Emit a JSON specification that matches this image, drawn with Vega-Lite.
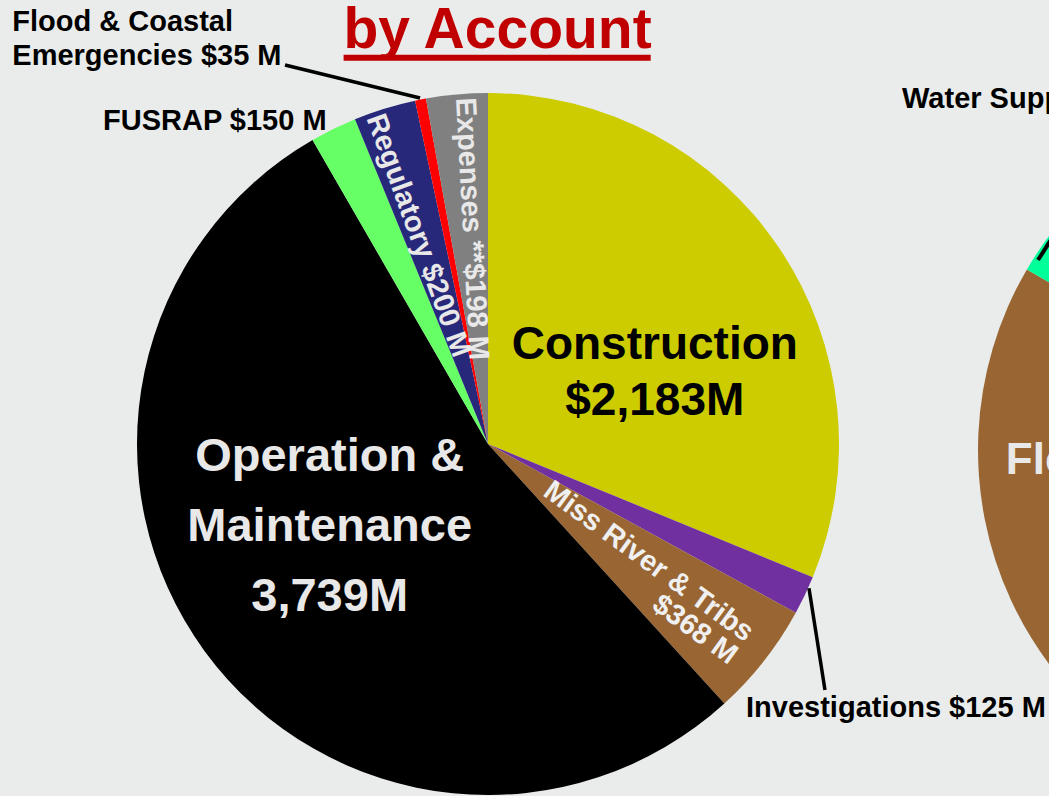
{
  "$schema": "https://vega.github.io/schema/vega-lite/v6.json",
  "width": 1049,
  "height": 796,
  "autosize": {"type": "none"},
  "padding": 0,
  "background": "#E9ECEB",
  "config": {"view": {"stroke": null}, "font": "Liberation Sans", "text": {"font": "Liberation Sans", "fontWeight": "bold"}},
  "datasets": {
    "account": [
      {"account": "Construction", "value": 2183, "idx": 1, "label": "Construction\n$2,183M"},
      {"account": "Investigations", "value": 125, "idx": 2, "label": "Investigations $125 M"},
      {"account": "Miss River & Tribs", "value": 368, "idx": 3, "label": "Miss River & Tribs\n$368 M"},
      {"account": "Operation & Maintenance", "value": 3739, "idx": 4, "label": "Operation &\nMaintenance\n3,739M"},
      {"account": "FUSRAP", "value": 150, "idx": 5, "label": "FUSRAP $150 M"},
      {"account": "Regulatory", "value": 200, "idx": 6, "label": "Regulatory $200 M"},
      {"account": "Flood & Coastal Emergencies", "value": 35, "idx": 7, "label": "Flood & Coastal\nEmergencies $35 M"},
      {"account": "Expenses", "value": 198, "idx": 8, "label": "Expenses **$198 M"}
    ],
    "business": [
      {"account": "Navigation", "value": 190, "idx": 1, "label": "Navigation"},
      {"account": "Flood Risk Management", "value": 110.3, "idx": 2, "label": "Flood Risk Management"},
      {"account": "Water Supply", "value": 8, "idx": 3, "label": "Water Supply"},
      {"account": "Other", "value": 51.7, "idx": 4, "label": "Other"}
    ]
  },
  "encoding": {
    "x": {"datum": 0, "type": "quantitative", "scale": {"domain": [-1.3903, 1.5983], "nice": false, "zero": false}, "axis": null},
    "y": {"datum": 0, "type": "quantitative", "scale": {"domain": [-1.0028, 1.265], "nice": false, "zero": false}, "axis": null}
  },
  "resolve": {"scale": {"theta": "independent"}},
  "layer": [
    {
      "data": {"name": "account"},
      "mark": {"type": "arc", "outerRadius": 351},
      "encoding": {
        "theta": {"field": "value", "type": "quantitative", "stack": true},
        "order": {"field": "idx", "type": "quantitative"},
        "color": {"field": "account", "type": "nominal", "legend": null,
          "scale": {
            "domain": ["Construction", "Investigations", "Miss River & Tribs", "Operation & Maintenance", "FUSRAP", "Regulatory", "Flood & Coastal Emergencies", "Expenses", "Navigation", "Flood Risk Management", "Water Supply", "Other"],
            "range": ["#CCCC00", "#7030A0", "#996633", "#000000", "#66FF66", "#28287A", "#FF0000", "#808080", "#3366CC", "#996633", "#00FF99", "#A6A6A6"]
          }
        }
      }
    },
    {
      "data": {"name": "business"},
      "mark": {"type": "arc", "outerRadius": 358},
      "encoding": {
        "x": {"datum": 2.416, "type": "quantitative", "scale": {"domain": [-1.3903, 1.5983], "nice": false, "zero": false}, "axis": null},
        "y": {"datum": -0.0171, "type": "quantitative", "scale": {"domain": [-1.0028, 1.265], "nice": false, "zero": false}, "axis": null},
        "theta": {"field": "value", "type": "quantitative", "stack": true},
        "order": {"field": "idx", "type": "quantitative"},
        "color": {"field": "account", "type": "nominal", "legend": null}
      }
    },
    {
      "data": {"values": [{}]},
      "mark": {"type": "rule", "strokeWidth": 3.5, "color": "#000000"},
      "encoding": {
        "x": {"datum": -0.5783, "type": "quantitative", "scale": {"domain": [-1.3903, 1.5983], "nice": false, "zero": false}, "axis": null},
        "y": {"datum": 1.0798, "type": "quantitative", "scale": {"domain": [-1.0028, 1.265], "nice": false, "zero": false}, "axis": null},
        "x2": {"datum": -0.1937},
        "y2": {"datum": 0.9858}
      }
    },
    {
      "data": {"values": [{}]},
      "mark": {"type": "rule", "strokeWidth": 3.5, "color": "#000000"},
      "encoding": {
        "x": {"datum": 0.9145, "type": "quantitative", "scale": {"domain": [-1.3903, 1.5983], "nice": false, "zero": false}, "axis": null},
        "y": {"datum": -0.4111, "type": "quantitative", "scale": {"domain": [-1.0028, 1.265], "nice": false, "zero": false}, "axis": null},
        "x2": {"datum": 0.9601},
        "y2": {"datum": -0.7009}
      }
    },
    {
      "data": {"values": [{}]},
      "mark": {"type": "rule", "strokeWidth": 4, "color": "#000000"},
      "encoding": {
        "x": {"datum": 1.567, "type": "quantitative", "scale": {"domain": [-1.3903, 1.5983], "nice": false, "zero": false}, "axis": null},
        "y": {"datum": 0.5242, "type": "quantitative", "scale": {"domain": [-1.0028, 1.265], "nice": false, "zero": false}, "axis": null},
        "x2": {"datum": 1.6581},
        "y2": {"datum": 0.6667}
      }
    },
    {
      "data": {"name": "account"},
      "mark": {"type": "text", "radius": 190, "dx": 9, "dy": 7, "fontSize": 46, "lineHeight": 56, "lineBreak": "\n", "align": "center", "baseline": "middle", "color": "#000000"},
      "encoding": {
        "theta": {"field": "value", "type": "quantitative", "stack": true},
        "order": {"field": "idx", "type": "quantitative"},
        "detail": {"field": "account", "type": "nominal"},
        "text": {"condition": {"test": "datum.account === 'Construction'", "field": "label", "type": "nominal"}, "value": ""}
      }
    },
    {
      "data": {"name": "account"},
      "mark": {"type": "text", "radius": 180, "dx": -13, "dy": -93, "fontSize": 47, "lineHeight": 70, "lineBreak": "\n", "align": "center", "baseline": "middle", "color": "#E8E8E8"},
      "encoding": {
        "theta": {"field": "value", "type": "quantitative", "stack": true},
        "order": {"field": "idx", "type": "quantitative"},
        "detail": {"field": "account", "type": "nominal"},
        "text": {"condition": {"test": "datum.account === 'Operation & Maintenance'", "field": "label", "type": "nominal"}, "value": ""}
      }
    },
    {
      "data": {"name": "account"},
      "mark": {"type": "text", "radius": 325, "dx": 0, "dy": -12, "angle": 36, "fontSize": 29, "lineHeight": 28, "lineBreak": "\n", "align": "right", "baseline": "middle", "color": "#F0F0F0"},
      "encoding": {
        "theta": {"field": "value", "type": "quantitative", "stack": true},
        "order": {"field": "idx", "type": "quantitative"},
        "detail": {"field": "account", "type": "nominal"},
        "text": {"condition": {"test": "datum.account === 'Miss River & Tribs'", "field": "label", "type": "nominal"}, "value": ""}
      }
    },
    {
      "data": {"name": "account"},
      "mark": {"type": "text", "radius": 220, "dx": 0, "dy": 5, "angle": 70, "fontSize": 29, "align": "center", "baseline": "middle", "color": "#E8E8E8"},
      "encoding": {
        "theta": {"field": "value", "type": "quantitative", "stack": true},
        "order": {"field": "idx", "type": "quantitative"},
        "detail": {"field": "account", "type": "nominal"},
        "text": {"condition": {"test": "datum.account === 'Regulatory'", "field": "label", "type": "nominal"}, "value": ""}
      }
    },
    {
      "data": {"name": "account"},
      "mark": {"type": "text", "radius": 217, "dx": 1, "dy": -3, "angle": 87, "fontSize": 29, "align": "center", "baseline": "middle", "color": "#E8E8E8"},
      "encoding": {
        "theta": {"field": "value", "type": "quantitative", "stack": true},
        "order": {"field": "idx", "type": "quantitative"},
        "detail": {"field": "account", "type": "nominal"},
        "text": {"condition": {"test": "datum.account === 'Expenses'", "field": "label", "type": "nominal"}, "value": ""}
      }
    },
    {
      "data": {"name": "account"},
      "mark": {"type": "text", "radius": 362, "dx": -2, "dy": 2, "fontSize": 29, "align": "right", "baseline": "middle", "color": "#000000"},
      "encoding": {
        "theta": {"field": "value", "type": "quantitative", "stack": true},
        "order": {"field": "idx", "type": "quantitative"},
        "detail": {"field": "account", "type": "nominal"},
        "text": {"condition": {"test": "datum.account === 'FUSRAP'", "field": "label", "type": "nominal"}, "value": ""}
      }
    },
    {
      "data": {"name": "account"},
      "mark": {"type": "text", "radius": 430, "dx": -393, "dy": 0, "fontSize": 29, "lineHeight": 34, "lineBreak": "\n", "align": "left", "baseline": "middle", "color": "#000000"},
      "encoding": {
        "theta": {"field": "value", "type": "quantitative", "stack": true},
        "order": {"field": "idx", "type": "quantitative"},
        "detail": {"field": "account", "type": "nominal"},
        "text": {"condition": {"test": "datum.account === 'Flood & Coastal Emergencies'", "field": "label", "type": "nominal"}, "value": ""}
      }
    },
    {
      "data": {"name": "account"},
      "mark": {"type": "text", "radius": 430, "dx": -130, "dy": 79, "fontSize": 29, "align": "left", "baseline": "middle", "color": "#000000"},
      "encoding": {
        "theta": {"field": "value", "type": "quantitative", "stack": true},
        "order": {"field": "idx", "type": "quantitative"},
        "detail": {"field": "account", "type": "nominal"},
        "text": {"condition": {"test": "datum.account === 'Investigations'", "field": "label", "type": "nominal"}, "value": ""}
      }
    },
    {
      "data": {"name": "business"},
      "mark": {"type": "text", "radius": 300, "dx": -58, "dy": -115, "fontSize": 44, "align": "left", "baseline": "middle", "color": "#E8E8E8"},
      "encoding": {
        "x": {"datum": 2.416, "type": "quantitative", "scale": {"domain": [-1.3903, 1.5983], "nice": false, "zero": false}, "axis": null},
        "y": {"datum": -0.0171, "type": "quantitative", "scale": {"domain": [-1.0028, 1.265], "nice": false, "zero": false}, "axis": null},
        "theta": {"field": "value", "type": "quantitative", "stack": true},
        "order": {"field": "idx", "type": "quantitative"},
        "detail": {"field": "account", "type": "nominal"},
        "text": {"condition": {"test": "datum.account === 'Flood Risk Management'", "field": "label", "type": "nominal"}, "value": ""}
      }
    },
    {
      "data": {"name": "business"},
      "mark": {"type": "text", "radius": 420, "dx": -87, "dy": -114, "fontSize": 29, "align": "left", "baseline": "middle", "color": "#000000"},
      "encoding": {
        "x": {"datum": 2.416, "type": "quantitative", "scale": {"domain": [-1.3903, 1.5983], "nice": false, "zero": false}, "axis": null},
        "y": {"datum": -0.0171, "type": "quantitative", "scale": {"domain": [-1.0028, 1.265], "nice": false, "zero": false}, "axis": null},
        "theta": {"field": "value", "type": "quantitative", "stack": true},
        "order": {"field": "idx", "type": "quantitative"},
        "detail": {"field": "account", "type": "nominal"},
        "text": {"condition": {"test": "datum.account === 'Water Supply'", "field": "label", "type": "nominal"}, "value": ""}
      }
    },
    {
      "data": {"values": [{}]},
      "mark": {"type": "text", "fontSize": 57, "align": "center", "baseline": "alphabetic", "color": "#C00000"},
      "encoding": {
        "x": {"datum": 0.0271, "type": "quantitative", "scale": {"domain": [-1.3903, 1.5983], "nice": false, "zero": false}, "axis": null},
        "y": {"datum": 1.1282, "type": "quantitative", "scale": {"domain": [-1.0028, 1.265], "nice": false, "zero": false}, "axis": null},
        "text": {"value": "by Account"}
      }
    },
    {
      "data": {"values": [{}]},
      "mark": {"type": "rule", "strokeWidth": 6, "color": "#C00000"},
      "encoding": {
        "x": {"datum": -0.4114, "type": "quantitative", "scale": {"domain": [-1.3903, 1.5983], "nice": false, "zero": false}, "axis": null},
        "y": {"datum": 1.1006, "type": "quantitative", "scale": {"domain": [-1.0028, 1.265], "nice": false, "zero": false}, "axis": null},
        "x2": {"datum": 0.4635}
      }
    }
  ]
}
